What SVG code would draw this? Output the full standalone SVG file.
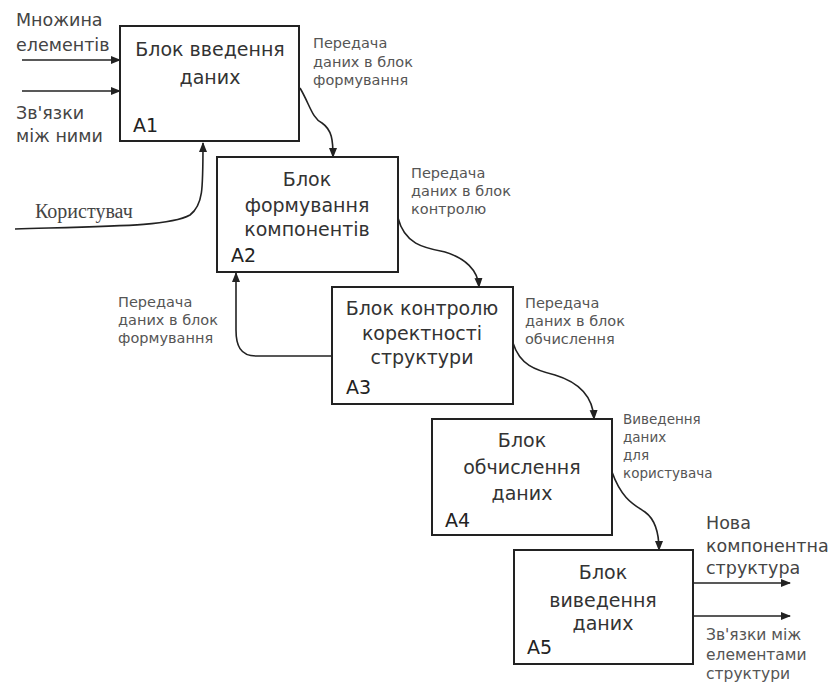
<svg xmlns="http://www.w3.org/2000/svg" width="829" height="683" viewBox="0 0 829 683">
<defs>
<marker id="ah" markerWidth="10" markerHeight="10" refX="9" refY="5" orient="auto" markerUnits="userSpaceOnUse">
<path d="M0,1 L10,5 L0,9 Z" fill="#222"/>
</marker>
<style>
.box{fill:#fff;stroke:#222;stroke-width:2}
.t{font-family:"DejaVu Sans",sans-serif;font-size:19px;fill:#333;text-anchor:middle}
.id{font-family:"DejaVu Sans",sans-serif;font-size:19px;fill:#222}
.s{font-family:"DejaVu Sans",sans-serif;font-size:14.5px;fill:#555}
.v{font-family:"DejaVu Sans",sans-serif;font-size:13.5px;fill:#555}
.m{font-family:"DejaVu Sans",sans-serif;font-size:17.5px;fill:#444}
.z{font-family:"DejaVu Sans",sans-serif;font-size:15.5px;fill:#555}
.c{fill:none;stroke:#222;stroke-width:1.6;marker-end:url(#ah)}
</style>
</defs>
<rect width="829" height="683" fill="#fff"/>
<g id="connectors">
<path class="c" d="M22,60 L120,60"/>
<path class="c" d="M22,91 L120,91"/>
<path class="c" d="M15,229 C120,226 170,226 190,215 C203,205 203,190 203,143"/>
<path class="c" d="M300,88 C310,105 312,118 322,123 C332,130 333,140 333,157"/>
<path class="c" d="M398,218 C405,245 425,248 445,252 C465,258 478,270 479,287"/>
<path class="c" d="M332,356 L256,356 C240,356 236,345 236,330 L236,273"/>
<path class="c" d="M513,343 C520,365 535,370 555,375 C578,382 593,395 594,419"/>
<path class="c" d="M612,472 C622,500 635,505 645,512 C656,520 659,535 659,550"/>
<path class="c" d="M693,583 L790,583"/>
<path class="c" d="M693,616 L790,616"/>
</g>
<g id="A1">
<rect class="box" x="120" y="26" width="179" height="115"/>
<text class="t" x="210" y="56">Блок введення</text>
<text class="t" x="210" y="84">даних</text>
<text class="id" x="133" y="132">A1</text>
</g>
<g id="A2">
<rect class="box" x="217" y="157" width="181" height="115"/>
<text class="t" x="307" y="186">Блок</text>
<text class="t" x="307" y="212">формування</text>
<text class="t" x="307" y="236">компонентів</text>
<text class="id" x="231" y="262">A2</text>
</g>
<g id="A3">
<rect class="box" x="332" y="287" width="181" height="117"/>
<text class="t" x="422" y="315">Блок контролю</text>
<text class="t" x="422" y="340">коректності</text>
<text class="t" x="422" y="364">структури</text>
<text class="id" x="346" y="394">A3</text>
</g>
<g id="A4">
<rect class="box" x="432" y="419" width="180" height="116"/>
<text class="t" x="522" y="447">Блок</text>
<text class="t" x="522" y="474">обчислення</text>
<text class="t" x="522" y="500">даних</text>
<text class="id" x="445" y="527">A4</text>
</g>
<g id="A5">
<rect class="box" x="514" y="550" width="179" height="114"/>
<text class="t" x="603" y="579">Блок</text>
<text class="t" x="603" y="607">виведення</text>
<text class="t" x="603" y="630">даних</text>
<text class="id" x="527" y="654">A5</text>
</g>
<g id="labels">
<text class="m" x="16" y="26">Множина</text>
<text class="m" x="16" y="51">елементів</text>
<text class="m" x="16" y="119">Зв'язки</text>
<text class="m" x="16" y="142">між ними</text>
<text x="35" y="218" style="font-family:'Liberation Serif',serif;font-size:20px;fill:#444">Користувач</text>
<text class="s" x="313" y="48">Передача</text>
<text class="s" x="313" y="67">даних в блок</text>
<text class="s" x="313" y="85">формування</text>
<text class="s" x="411" y="178">Передача</text>
<text class="s" x="411" y="196">даних в блок</text>
<text class="s" x="411" y="214">контролю</text>
<text class="s" x="118" y="307">Передача</text>
<text class="s" x="118" y="325">даних в блок</text>
<text class="s" x="118" y="343">формування</text>
<text class="s" x="525" y="308">Передача</text>
<text class="s" x="525" y="326">даних в блок</text>
<text class="s" x="525" y="344">обчислення</text>
<text class="v" x="623" y="424">Виведення</text>
<text class="v" x="623" y="442">даних</text>
<text class="v" x="623" y="460">для</text>
<text class="v" x="623" y="478">користувача</text>
<text class="m" x="706" y="529">Нова</text>
<text class="m" x="706" y="552">компонентна</text>
<text class="m" x="706" y="574">структура</text>
<text class="z" x="706" y="640">Зв'язки між</text>
<text class="z" x="706" y="660">елементами</text>
<text class="z" x="706" y="679">структури</text>
</g>
</svg>
